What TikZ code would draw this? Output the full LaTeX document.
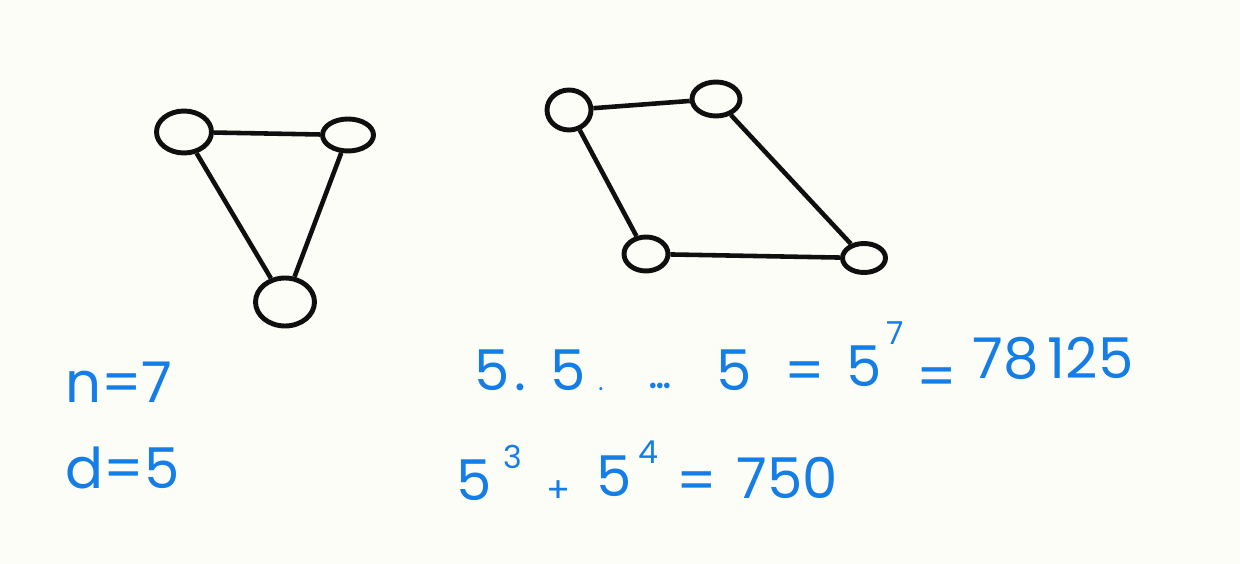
\documentclass[tikz,border=0pt]{standalone}
\usepackage{fontspec}
\setmainfont{Poppins}
\usetikzlibrary{shapes.geometric}
\definecolor{InkBlack}{RGB}{15, 15, 15}
\definecolor{PenBlue}{RGB}{20, 125, 230}
\definecolor{PaperCream}{RGB}{253, 253, 248}

\begin{document}
\begin{tikzpicture}[x=0.02cm, y=-0.02cm,
    vertex/.style={draw=InkBlack, line width=2.8pt, ellipse, inner sep=0pt},
    edge/.style={InkBlack, line width=2.6pt},
    note/.style={text=PenBlue, font=\fontsize{32}{34}\selectfont, anchor=base west, inner sep=0pt},
    sup/.style={note, font=\fontsize{18}{20}\selectfont}]
    \fill[PaperCream] (0,0) rectangle (1240,564);
    \useasboundingbox (0,0) rectangle (1240,564);
    % Triangulo
    \node[vertex, minimum width=1.1cm, minimum height=0.84cm] (tA) at (184,132) {};
    \node[vertex, minimum width=1.02cm, minimum height=0.64cm] (tB) at (348,135) {};
    \node[vertex, minimum width=1.18cm, minimum height=0.96cm] (tC) at (285,302) {};
    \draw[edge] (tA) -- (tB);
    \draw[edge] (tA) -- (tC);
    \draw[edge] (tB) -- (tC);
    % Cuadrilatero
    \node[vertex, minimum width=0.88cm, minimum height=0.8cm] (qA) at (569,110) {};
    \node[vertex, minimum width=0.96cm, minimum height=0.68cm] (qB) at (716,99) {};
    \node[vertex, minimum width=0.88cm, minimum height=0.68cm] (qC) at (646,254) {};
    \node[vertex, minimum width=0.86cm, minimum height=0.58cm] (qD) at (864,258) {};
    \draw[edge] (qA) -- (qB);
    \draw[edge] (qA) -- (qC);
    \draw[edge] (qC) -- (qD);
    \draw[edge] (qB) -- (qD);
    % Datos
    \node[note] (nEq) at (65,402) {n=7};
    \node[note] (dEq) at (65,488) {d=5};
    % Producto
    \node[note] (pA) at (474,390) {5};
    \node[note] (pDot) at (514,390) {.};
    \node[note] (pB) at (550,390) {5};
    \node[note] (pDotB) at (598,390) {\fontsize{14}{16}\selectfont .};
    \node[note] (pDots) at (648,388) {\fontsize{26}{28}\selectfont .\hspace{-0.05em}.\hspace{-0.05em}.};
    \node[note] (pC) at (716,390) {5};
    \node[note] (pEqA) at (784,390) {=};
    \node[note] (pD) at (846,386) {5};
    \node[sup] (pExp) at (886,344) {7};
    \node[note] (pEqB) at (916,396) {=};
    \node[note] (pRes) at (972,378) {78\,125};
    % Suma
    \node[note] (sA) at (456,500) {5};
    \node[sup] (sExpA) at (503,468) {3};
    \node[note] (sPlus) at (546,502) {\fontsize{20}{22}\selectfont +};
    \node[note] (sB) at (596,496) {5};
    \node[sup] (sExpB) at (638,463) {4};
    \node[note] (sEq) at (676,500) {=};
    \node[note] (sRes) at (736,498) {750};
\end{tikzpicture}
\end{document}
